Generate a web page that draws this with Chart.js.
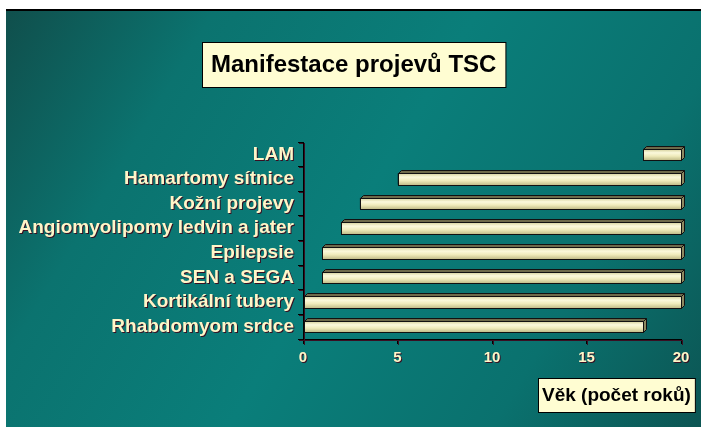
<!DOCTYPE html>
<html>
<head>
<meta charset="utf-8">
<script src="https://cdn.jsdelivr.net/npm/chart.js@4.4.0/dist/chart.umd.min.js"></script>
<style>
  html, body { margin: 0; padding: 0; background: #fff; }
  #wrap { width: 701px; height: 427px; }
</style>
</head>
<body>
<div id="wrap"><canvas id="tscChart" width="701" height="427"></canvas></div>
<script>
// Manifestace projevů TSC - floating horizontal bars

const categories = ['LAM', 'Hamartomy sítnice', 'Kožní projevy', 'Angiomyolipomy ledvin a jater',
    'Epilepsie', 'SEN a SEGA', 'Kortikální tubery', 'Rhabdomyom srdce'];
const startAge = [18, 5, 3, 2, 1, 1, 0, 0];
const endAge = [20, 20, 20, 20, 20, 20, 20, 18];
const xTicks = [0, 5, 10, 15, 20];
const chartTitle = 'Manifestace projevů TSC';
const axisTitle = 'Věk (počet roků)';

const FONT = 'Arial, "Liberation Sans", sans-serif';
Chart.defaults.font.family = FONT;

// Background panel + label shadow
const backgroundPlugin = {
    id: 'panel',
    beforeDraw(chart) {
        const ctx = chart.ctx;
        const w = chart.width, h = chart.height;
        ctx.save();
        ctx.fillStyle = '#fff';
        ctx.fillRect(0, 0, w, h);
        const g = ctx.createLinearGradient(6, 11, w, h);
        g.addColorStop(0, '#104f4c');
        g.addColorStop(0.22, '#0b736f');
        g.addColorStop(0.5, '#0a7e7a');
        g.addColorStop(0.78, '#0a716e');
        g.addColorStop(1, '#0c5553');
        ctx.fillStyle = g;
        ctx.fillRect(6, 11, w - 6, h - 11);
        ctx.fillStyle = '#000';
        ctx.fillRect(6, 9, w - 6, 2);
        ctx.restore();
        // dark shadow under the cream axis labels
        ctx.shadowColor = '#3a0f22';
        ctx.shadowOffsetX = 1;
        ctx.shadowOffsetY = 1;
        ctx.shadowBlur = 0;
    },
    beforeDatasetsDraw(chart) {
        const ctx = chart.ctx;
        ctx.shadowColor = 'rgba(0,0,0,0)';
        ctx.shadowOffsetX = 0;
        ctx.shadowOffsetY = 0;
    }
};

// Cylinder-ish front face and 3D depth of each bar
const depthPlugin = {
    id: 'depth',
    afterDatasetsDraw(chart) {
        const ctx = chart.ctx;
        const d = 3;
        chart.getDatasetMeta(0).data.forEach(bar => {
            const p = bar.getProps(['x', 'y', 'base', 'height'], true);
            const left = Math.round(Math.min(p.x, p.base)) + 0.5;
            const right = Math.round(Math.max(p.x, p.base)) + 0.5;
            const top = Math.round(p.y - p.height / 2) + 0.5;
            const bottom = Math.round(p.y + p.height / 2) + 0.5;
            ctx.save();
            ctx.lineWidth = 1;
            ctx.strokeStyle = '#111';
            // front
            const g = ctx.createLinearGradient(0, top, 0, bottom);
            g.addColorStop(0, '#d6d29e');
            g.addColorStop(0.3, '#fbf9dc');
            g.addColorStop(0.6, '#efebbb');
            g.addColorStop(1, '#bdb884');
            ctx.fillStyle = g;
            ctx.fillRect(left, top, right - left, bottom - top);
            ctx.strokeRect(left, top, right - left, bottom - top);
            // top face
            ctx.beginPath();
            ctx.moveTo(left, top);
            ctx.lineTo(left + d, top - d);
            ctx.lineTo(right + d, top - d);
            ctx.lineTo(right, top);
            ctx.closePath();
            ctx.fillStyle = '#6e6a4a';
            ctx.fill();
            ctx.stroke();
            // side face
            ctx.beginPath();
            ctx.moveTo(right, top);
            ctx.lineTo(right + d, top - d);
            ctx.lineTo(right + d, bottom - d);
            ctx.lineTo(right, bottom);
            ctx.closePath();
            ctx.fillStyle = '#8d8960';
            ctx.fill();
            ctx.stroke();
            ctx.restore();
        });
    }
};

// Boxed chart title and axis title
function drawBoxedText(ctx, text, cx, cy, size, padX, boxH, anchor) {
    ctx.save();
    ctx.font = 'bold ' + size + 'px ' + FONT;
    const tw = ctx.measureText(text).width;
    const bw = tw + padX * 2;
    const bx = anchor === 'right' ? Math.round(cx - bw) : Math.round(cx - bw / 2);
    const by = Math.round(cy - boxH / 2);
    ctx.fillStyle = '#fffdd2';
    ctx.fillRect(bx + 0.5, by + 0.5, bw, boxH);
    ctx.strokeStyle = '#000';
    ctx.lineWidth = 1;
    ctx.strokeRect(bx + 0.5, by + 0.5, bw, boxH);
    ctx.fillStyle = '#000';
    ctx.textAlign = 'left';
    ctx.textBaseline = 'middle';
    ctx.fillText(text, bx + padX, cy + 1);
    ctx.restore();
}

const titlePlugin = {
    id: 'boxTitles',
    afterDraw(chart) {
        const ctx = chart.ctx;
        drawBoxedText(ctx, chartTitle, 354, 64.5, 24, 9, 45, 'center');
        drawBoxedText(ctx, axisTitle, 695, 395, 19, 4, 34, 'right');
    }
};

const ctx = document.getElementById('tscChart');
new Chart(ctx, {
    type: 'bar',
    data: {
        labels: categories,
        datasets: [{
            data: categories.map((c, i) => [startAge[i], endAge[i]]),
            backgroundColor: '#efebbb',
            borderColor: '#111',
            borderWidth: 1,
            borderSkipped: false,
            barPercentage: 0.47,
            categoryPercentage: 1
        }]
    },
    options: {
        indexAxis: 'y',
        responsive: false,
        animation: false,
        layout: {
            padding: { left: 7, right: 20, top: 142, bottom: 0 }
        },
        plugins: {
            legend: { display: false },
            tooltip: { enabled: false },
            title: { display: false }
        },
        scales: {
            x: {
                min: 0,
                max: 20,
                afterBuildTicks: scale => { scale.ticks = xTicks.map(v => ({ value: v })); },
                afterFit: scale => { scale.height = 88; },
                ticks: {
                    color: '#fff6c8',
                    font: { size: 15, weight: 'bold' },
                    padding: 5,
                    maxRotation: 0
                },
                grid: {
                    drawOnChartArea: false,
                    color: '#000',
                    tickLength: 5
                },
                border: { color: '#000', width: 1 }
            },
            y: {
                afterFit: scale => { scale.width = 296; },
                ticks: {
                    color: '#fff6c8',
                    font: { size: 19, weight: 'bold' },
                    padding: 4,
                    autoSkip: false
                },
                grid: {
                    drawOnChartArea: false,
                    color: '#000',
                    tickLength: 5,
                    offset: true
                },
                border: { color: '#000', width: 1 }
            }
        }
    },
    plugins: [backgroundPlugin, depthPlugin, titlePlugin]
});
</script>
</body>
</html>
